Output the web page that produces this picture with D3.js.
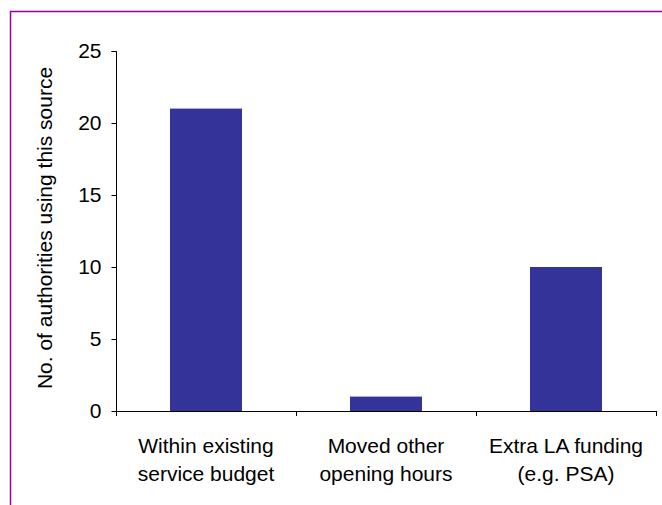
<!DOCTYPE html>
<html><head><meta charset="utf-8">
<script src="https://cdn.jsdelivr.net/npm/d3@7"></script>
<style>body{margin:0;background:#fff}svg{display:block}</style>
</head><body>
<svg id="c" width="662" height="505"></svg>
<script>
const categories = [["Within existing","service budget"],["Moved other","opening hours"],["Extra LA funding","(e.g. PSA)"]];
const values = [21, 1, 10];
const yTicks = [0, 5, 10, 15, 20, 25];
const yTitle = "No. of authorities using this source";

(function(){
const svg = d3.select("#c");
const font = "'Liberation Sans', Arial, sans-serif";
const fs = 21;
svg.append("path").attr("d","M10.5,505 V11.5 H662").attr("fill","none").attr("stroke","#990099").attr("stroke-width",1.5);

const pL = 116, pR = 656, pT = 51, pB = 411;
const x = d3.scaleBand().domain(d3.range(categories.length)).range([pL, pR]).paddingInner(0.6).paddingOuter(0.3);
const y = d3.scaleLinear().domain([0, 25]).range([pB, pT]);

svg.selectAll("rect.bar").data(values).join("rect").attr("class","bar")
  .attr("x",(d,i)=>x(i)).attr("width",x.bandwidth())
  .attr("y",d=>y(d)).attr("height",d=>y(0)-y(d)).attr("fill","#333399");

const ya = svg.append("g").attr("transform",`translate(${pL+0.5},0)`)
  .call(d3.axisLeft(y).tickValues(yTicks).tickSize(5).tickPadding(10));
ya.select(".domain").attr("d",`M-5,${pT+0.5}H0V${pB+0.5}`).attr("stroke","#000");
ya.selectAll(".tick line").attr("stroke","#000");
ya.selectAll("text").attr("font-family",font).attr("font-size",fs).attr("fill","#000");

const xa = svg.append("g");
xa.append("line").attr("x1",pL).attr("x2",pR+0.5).attr("y1",pB+0.5).attr("y2",pB+0.5).attr("stroke","#000");
const edges = d3.range(categories.length+1).map(i=>pL + i*(pR-pL)/categories.length);
xa.selectAll("line.t").data(edges).join("line").attr("class","t")
  .attr("x1",d=>Math.round(d)+0.5).attr("x2",d=>Math.round(d)+0.5).attr("y1",pB).attr("y2",pB+5).attr("stroke","#000");

const lab = svg.append("g");
categories.forEach((c,i)=>{
  const cx = x(i)+x.bandwidth()/2;
  const t = lab.append("text").attr("x",cx).attr("y",453)
    .attr("text-anchor","middle").attr("font-family",font).attr("font-size",fs).attr("fill","#000");
  c.forEach((line,j)=>t.append("tspan").attr("x",cx).attr("dy",j?28:0).text(line));
});

svg.append("text").attr("transform",`translate(52,228) rotate(-90)`)
  .attr("text-anchor","middle").attr("font-family",font).attr("font-size",fs).attr("fill","#000").text(yTitle);
})();
</script>
</body></html>
